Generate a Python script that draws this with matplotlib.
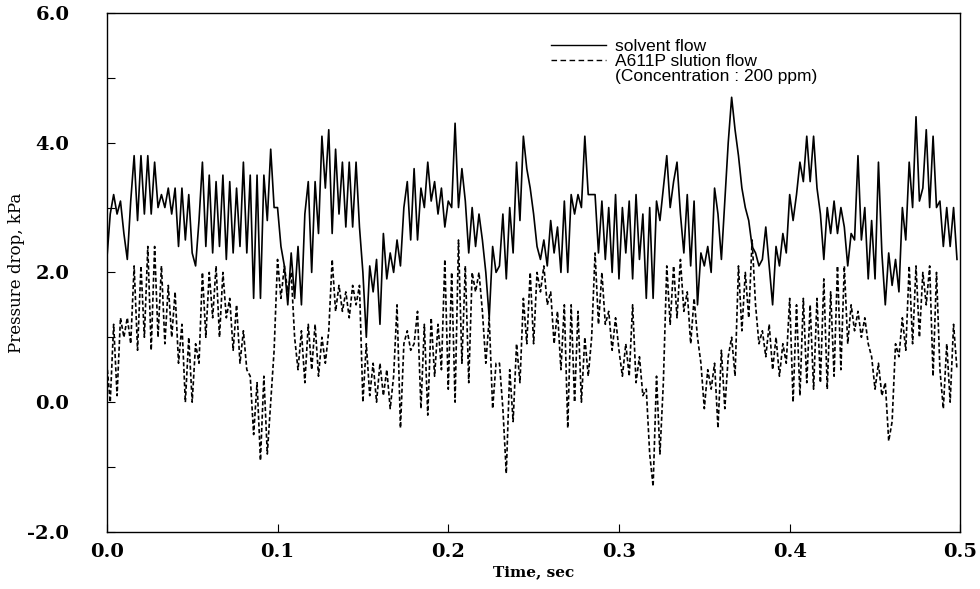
import matplotlib
matplotlib.use("Agg")
import matplotlib.pyplot as plt
from matplotlib.lines import Line2D
import numpy as np

dt = 0.002

# solvent flow, kPa (5 samples per 0.01 s)
solvent = [
    2.2, 2.9, 3.2, 2.9, 3.1,
    2.6, 2.2, 3.1, 3.8, 2.8,
    3.8, 2.9, 3.8, 2.9, 3.7,
    3.0, 3.2, 3.0, 3.3, 2.9,
    3.3, 2.4, 3.3, 2.5, 3.2,
    2.3, 2.1, 2.8, 3.7, 2.4,
    3.5, 2.3, 3.4, 2.4, 3.5,
    2.2, 3.4, 2.3, 3.3, 2.4,
    3.7, 2.3, 3.5, 1.6, 3.5,
    1.6, 3.5, 2.8, 3.9, 3.0,
    3.0, 2.4, 2.1, 1.5, 2.3,
    1.6, 2.4, 1.5, 2.9, 3.4,
    2.0, 3.4, 2.6, 4.1, 3.3,
    4.2, 2.6, 3.9, 2.9, 3.7,
    2.7, 3.7, 2.7, 3.7, 2.7,
    2.0, 1.0, 2.1, 1.7, 2.2,
    1.2, 2.6, 1.9, 2.3, 2.0,
    2.5, 2.1, 3.0, 3.4, 2.5,
    3.6, 2.5, 3.3, 3.0, 3.7,
    3.1, 3.4, 2.9, 3.3, 2.7,
    3.1, 3.0, 4.3, 3.0, 3.6,
    3.1, 2.3, 3.0, 2.4, 2.9,
    2.5, 2.0, 1.3, 2.4, 2.0,
    2.1, 2.9, 1.9, 3.0, 2.3,
    3.7, 2.8, 4.1, 3.6, 3.3,
    2.9, 2.4, 2.2, 2.5, 2.1,
    2.8, 2.3, 2.7, 2.0, 3.1,
    2.0, 3.2, 2.9, 3.2, 3.0,
    4.1, 3.2, 3.2, 3.2, 2.3,
    3.1, 2.2, 3.0, 2.0, 3.2,
    1.9, 3.0, 2.3, 3.1, 1.9,
    3.2, 2.2, 2.9, 1.6, 3.0,
    1.6, 3.1, 2.8, 3.3, 3.8,
    3.0, 3.4, 3.7, 2.9, 2.3,
    3.2, 2.1, 3.1, 1.5, 2.3,
    2.1, 2.4, 2.0, 3.3, 2.9,
    2.2, 3.1, 4.0, 4.7, 4.2,
    3.8, 3.3, 3.0, 2.8, 2.4,
    2.3, 2.1, 2.2, 2.7, 2.1,
    1.5, 2.4, 2.1, 2.6, 2.3,
    3.2, 2.8, 3.2, 3.7, 3.4,
    4.1, 3.4, 4.1, 3.3, 2.9,
    2.2, 3.0, 2.6, 3.1, 2.6,
    3.0, 2.7, 2.1, 2.6, 2.5,
    3.8, 2.5, 3.0, 1.9, 2.8,
    1.9, 3.7, 2.3, 1.5, 2.3,
    1.8, 2.2, 1.7, 3.0, 2.5,
    3.7, 3.0, 4.4, 3.1, 3.3,
    4.2, 3.0, 4.1, 3.0, 3.1,
    2.4, 3.0, 2.4, 3.0, 2.2,
]

# A611P solution flow (200 ppm), kPa
polymer = [
    0.6, 0.0, 1.2, 0.1, 1.3,
    1.0, 1.3, 0.9, 2.1, 0.8,
    2.1, 1.0, 2.4, 0.8, 2.4,
    1.0, 2.1, 0.9, 1.8, 1.0,
    1.7, 0.6, 1.2, 0.0, 1.0,
    0.0, 0.9, 0.6, 2.0, 1.0,
    2.0, 1.3, 2.1, 1.0, 2.0,
    1.3, 1.6, 0.8, 1.5, 0.6,
    1.1, 0.5, 0.4, -0.5, 0.3,
    -0.9, 0.4, -0.8, 0.0, 0.8,
    2.2, 1.6, 2.1, 1.7, 2.0,
    1.0, 0.5, 1.1, 0.3, 1.2,
    0.5, 1.2, 0.4, 1.0, 0.6,
    1.1, 2.2, 1.4, 1.8, 1.4,
    1.7, 1.3, 1.8, 1.5, 1.8,
    0.0, 0.9, 0.1, 0.6, 0.0,
    0.6, 0.1, 0.5, -0.1, 0.4,
    1.5, -0.4, 0.9, 1.1, 0.8,
    0.9, 1.4, -0.1, 1.2, -0.2,
    1.3, 0.4, 1.2, 0.5, 2.2,
    0.2, 2.0, 0.0, 2.5, 0.6,
    2.1, 0.3, 2.0, 1.7, 2.0,
    1.4, 0.6, 1.3, -0.1, 0.6,
    0.6, -0.1, -1.1, 0.5, -0.3,
    0.9, 0.3, 1.6, 0.9, 2.0,
    0.9, 2.0, 1.7, 2.1, 1.5,
    1.7, 0.9, 1.4, 0.5, 1.5,
    -0.4, 1.5, 0.0, 1.4, 0.0,
    1.0, 0.4, 1.0, 2.3, 1.2,
    2.0, 1.2, 1.4, 0.8, 1.3,
    0.8, 0.4, 0.9, 0.4, 1.5,
    0.3, 0.7, 0.1, 0.2, -0.8,
    -1.3, 0.4, -0.8, 0.3, 2.1,
    1.2, 2.1, 1.3, 2.2, 1.4,
    1.7, 0.9, 1.6, 1.0, 0.6,
    -0.1, 0.5, 0.2, 0.6, -0.4,
    0.8, -0.1, 0.7, 1.0, 0.4,
    2.1, 1.1, 2.0, 1.3, 2.5,
    1.5, 0.9, 1.1, 0.7, 1.2,
    0.5, 1.0, 0.4, 0.9, 0.6,
    1.6, 0.0, 1.5, 0.1, 1.6,
    0.3, 1.5, 0.2, 1.6, 0.3,
    1.9, 0.2, 1.7, 0.4, 2.1,
    0.5, 2.1, 0.9, 1.5, 1.1,
    1.4, 1.0, 1.3, 0.9, 0.7,
    0.2, 0.6, 0.1, 0.3, -0.6,
    -0.3, 0.9, 0.7, 1.3, 0.8,
    2.1, 0.9, 2.1, 1.0, 2.0,
    1.5, 2.1, 0.4, 2.0, 0.5,
    -0.1, 0.9, 0.0, 1.2, 0.5,
]

labels = ["solvent flow", "A611P slution flow", "(Concentration : 200 ppm)"]

time = np.arange(len(solvent)) * dt

fig = plt.figure(figsize=(9.8, 5.89), dpi=100)
ax = fig.add_axes([0.109, 0.097, 0.871, 0.881])

ax.plot(time, solvent, color="black", lw=1.2)
ax.plot(time, polymer, color="black", lw=1.2, linestyle=(0, (2.5, 1.5)))

ax.set_xlim(0, 0.5)
ax.set_ylim(-2, 6)
ax.set_xticks(np.arange(0, 0.51, 0.1))
ax.set_yticks(np.arange(-2, 6.1, 2))
ax.set_yticks(np.arange(-1, 6, 2), minor=True)
ax.set_xticklabels(["%.1f" % v for v in np.arange(0, 0.51, 0.1)])
ax.set_yticklabels(["%.1f" % v for v in np.arange(-2, 6.1, 2)])
ax.tick_params(which="both", direction="in", length=6, width=0.8, top=False, right=False)
ax.tick_params(axis="y", pad=27)
ax.tick_params(axis="x", pad=8)
for lab in ax.get_xticklabels() + ax.get_yticklabels():
    lab.set_fontfamily("DejaVu Serif")
    lab.set_fontweight("bold")
    lab.set_fontsize(14)
for sp in ax.spines.values():
    sp.set_linewidth(1.0)

ax.set_xlabel("Time, sec", fontfamily="DejaVu Serif", fontweight="bold", fontsize=11, labelpad=3)
ax.set_ylabel("Pressure drop, kPa", fontfamily="DejaVu Serif", fontsize=12, labelpad=2)

handles = [
    Line2D([], [], color="black", lw=1.0),
    Line2D([], [], color="black", lw=1.0, linestyle=(0, (4, 2.5))),
    Line2D([], [], color="none"),
]
ax.legend(handles, labels, loc="upper left", bbox_to_anchor=(0.51, 0.967),
          frameon=False, handlelength=3.2, handletextpad=0.5, labelspacing=0.0,
          borderpad=0, prop={"family": "Liberation Sans", "size": 12.5})

fig.savefig("out.png", dpi=100)
